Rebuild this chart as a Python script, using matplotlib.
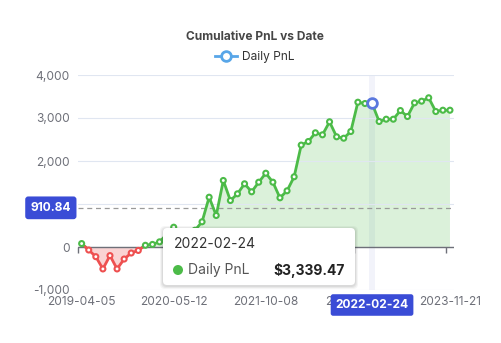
import numpy as np
import matplotlib.pyplot as plt
from matplotlib.lines import Line2D
from matplotlib.patches import FancyBboxPatch, Circle
from matplotlib.transforms import IdentityTransform

plt.rcParams['font.family'] = ['Inter', 'DejaVu Sans']

# cumulative pnl per trade date
pnl = [80, -70, -225, -510, -200, -510, -280, -140, -80, 40, 60, 120,
       290, 460, 330, 250, 390, 586, 1158, 733, 1547, 1081, 1237, 1470,
       1284, 1507, 1716, 1507, 1144, 1307, 1633, 2370, 2453, 2656, 2609,
       2912, 2563, 2530, 2686, 3367, 3337, 3339.47, 2919, 2972, 2972, 3174,
       3035, 3353, 3391, 3470, 3151, 3181, 3181]
tick_idx = [0, 13, 26, 39, 52]
tick_labels = ['2019-04-05', '2020-05-12', '2021-10-08', '2022-01-13', '2023-11-21']
hover_idx = 41
hover_date = '2022-02-24'
cursor_value = 910.84

GREEN = '#4CBB48'
RED = '#EE5050'
BLUE = '#5B78DE'
POINTER = '#3A4CD6'
AXIS = '#6E7079'
GRID = '#E0E6F1'

x = np.arange(len(pnl))
y = np.array(pnl, dtype=float)

# insert zero crossings so the line can switch colour exactly at 0
xs, ys = [x[0]], [y[0]]
for i in range(1, len(y)):
    if y[i - 1] * y[i] < 0:
        xs.append(x[i - 1] + y[i - 1] / (y[i - 1] - y[i]))
        ys.append(0.0)
    xs.append(x[i])
    ys.append(y[i])
xs = np.array(xs)
ys = np.array(ys)

fig = plt.figure(figsize=(5.01, 3.43), dpi=100)
ax = fig.add_axes([78.1 / 501, 53 / 343, 375.4 / 501, 215 / 343])

ax.set_xlim(-0.5, len(pnl) - 0.5)
ax.set_ylim(-1000, 4000)
ax.set_yticks(range(-1000, 4001, 1000))
ax.yaxis.set_major_formatter(lambda v, p: f'{int(v):,}')
ax.grid(axis='y', color=GRID, lw=0.8, zorder=0)
for s in ax.spines.values():
    s.set_visible(False)
ax.tick_params(axis='y', length=0, pad=6.2, labelsize=8.6, labelcolor=AXIS)
ax.set_xticks(tick_idx)
ax.set_xticklabels(tick_labels)
ax.tick_params(axis='x', length=0, pad=4.3, labelsize=8.6, labelcolor=AXIS)

# axis line sitting on zero, ticks on category boundaries
ax.axhline(0, color=AXIS, lw=1, zorder=2)
zero_axis = ax.secondary_xaxis(0.2)
zero_axis.set_xticks([i - 0.5 for i in tick_idx])
zero_axis.set_xticklabels([])
zero_axis.tick_params(length=4, color=AXIS, width=1, direction='out')
zero_axis.spines['bottom'].set_visible(False)

# hover band and cursor line
ax.axvspan(hover_idx - 0.45, hover_idx + 0.45, color='#F2F3FA', zorder=0.5, lw=0)
ax.axhline(cursor_value, color='#9A9A9A', lw=0.9, ls=(0, (4, 3)), zorder=1.5)

# area and line split by sign
ax.fill_between(xs, ys, 0, where=ys >= 0, color=GREEN, alpha=0.2, lw=0, zorder=1)
ax.fill_between(xs, ys, 0, where=ys <= 0, color=RED, alpha=0.25, lw=0, zorder=1)
ax.plot(xs, np.where(ys >= 0, ys, np.nan), color=GREEN, lw=2, solid_joinstyle='round', zorder=3)
ax.plot(xs, np.where(ys <= 0, ys, np.nan), color=RED, lw=2, solid_joinstyle='round', zorder=3)
edge = [GREEN if v >= 0 else RED for v in y]
ax.scatter(x, y, s=13, facecolors='white', edgecolors=edge, linewidths=1.5, zorder=4)
ax.plot(hover_idx, y[hover_idx], 'o', ms=7, mfc='white', mec=BLUE, mew=2, zorder=5)

# pointer labels on both axes
ax.annotate(f'{cursor_value:.2f}', xy=(0, cursor_value), xycoords=('axes fraction', 'data'),
            xytext=(-7, 0), textcoords='offset pixels', ha='right', va='center',
            color='white', fontsize=8.6, fontweight='bold',
            bbox=dict(boxstyle='round,pad=0.45,rounding_size=0.25', fc=POINTER, ec='none'),
            zorder=6)
ax.annotate(hover_date, xy=(hover_idx, 0), xycoords=('data', 'axes fraction'),
            xytext=(0, -15), textcoords='offset pixels', ha='center', va='center',
            color='white', fontsize=8.6, fontweight='bold',
            bbox=dict(boxstyle='round,pad=0.4,rounding_size=0.2', fc=POINTER, ec='none'),
            zorder=6, annotation_clip=False)

# tooltip
px = IdentityTransform()
H = 343
for off, a in [(3, 0.04), (2, 0.05), (1, 0.06)]:
    fig.patches.append(FancyBboxPatch((163 - off, H - 285 - off - 1), 192 + 2 * off, 57 + 2 * off,
                                      boxstyle='round,pad=0,rounding_size=5',
                                      transform=px, fc='black', ec='none', alpha=a, zorder=7))
fig.patches.append(FancyBboxPatch((163, H - 285), 192, 57, boxstyle='round,pad=0,rounding_size=4',
                                  transform=px, fc='white', ec='none', zorder=8))
fig.patches.append(Circle((178, H - 270), 5, transform=px, fc=GREEN, ec='none', zorder=9))
fig.text(174, H - 244, hover_date, transform=px, ha='left', va='center',
         fontsize=10, color='#333333', zorder=9)
fig.text(188, H - 270, 'Daily PnL', transform=px, ha='left', va='center',
         fontsize=10, color='#555555', zorder=9)
fig.text(345, H - 270, f'${y[hover_idx]:,.2f}', transform=px, ha='right', va='center',
         fontsize=10, color='#222222', fontweight='bold', zorder=9)

# title and legend
fig.text(254.5 / 501, 1 - 37 / 343, 'Cumulative PnL vs Date', ha='center', va='center',
         fontsize=8.6, fontweight='bold', color='#464646')
handle = Line2D([], [], color='#58A6E8', lw=2, marker='o', ms=7, mfc='white', mec='#58A6E8', mew=2)
fig.legend(handles=[handle], labels=['Daily PnL'], loc='center',
           bbox_to_anchor=(255 / 501, 1 - 57 / 343), frameon=False, fontsize=8.6,
           handlelength=1.8, handletextpad=0.5, labelcolor='#333333')

fig.savefig('out.png', dpi=100)
